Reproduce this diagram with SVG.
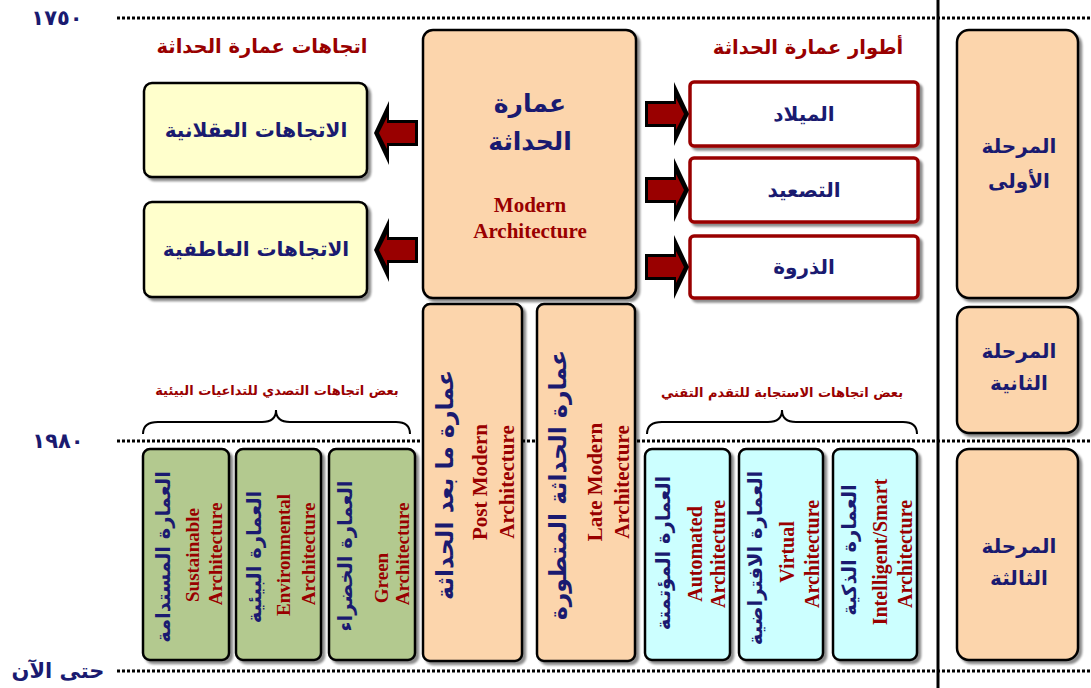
<svg xmlns="http://www.w3.org/2000/svg" width="1091" height="688" viewBox="0 0 1091 688">
<style>
.bg{fill:#ffffff}
.dot{stroke:#000;stroke-width:3;stroke-dasharray:3 2;fill:none}
.box{stroke:#000;stroke-width:2.5}
.peach{fill:#FCD5AC}
.yel{fill:#FFFFCC}
.grn{fill:#B3C98F}
.cyn{fill:#CCFFFF}
.stage{fill:#fff;stroke:#990000;stroke-width:3.5}
.ar{font-family:"DejaVu Sans","Liberation Sans",sans-serif;font-weight:bold;fill:#1a1a70;text-anchor:middle}
.arr{font-family:"DejaVu Sans","Liberation Sans",sans-serif;font-weight:bold;fill:#990000;text-anchor:middle}
.en{font-family:"Liberation Serif",serif;font-weight:bold;fill:#990000;text-anchor:middle}
.v{dominant-baseline:central}
.brace{stroke:#000;stroke-width:2;fill:none}
</style>
<defs>
<filter id="sh" x="-10%" y="-10%" width="130%" height="130%">
<feDropShadow dx="3" dy="3" stdDeviation="1.2" flood-color="#000" flood-opacity="0.45"/>
</filter>
<g id="arrow">
<polygon points="-43,-13 -14,-13 -14,-32 1,0 -14,32 -14,13 -43,13" fill="#000"/>
<polygon points="-40,-10 -12,-10 -12,-16 -4,0 -12,16 -12,10 -40,10" fill="#990000"/>
</g>
</defs>
<rect class="bg" x="0" y="0" width="1091" height="688"/>

<g id="timeline">
<line class="dot" x1="117" y1="18" x2="1091" y2="18"/>
<line class="dot" x1="117" y1="441" x2="1091" y2="441"/>
<line class="dot" x1="117" y1="671" x2="1091" y2="671"/>
<line x1="938" y1="0" x2="938" y2="688" stroke="#000" stroke-width="3"/>
<text class="ar" x="57" y="25" font-size="21" letter-spacing="3">١٧٥٠</text>
<text class="ar" x="58" y="448" font-size="21" letter-spacing="3">١٩٨٠</text>
<text class="ar" x="58" y="678" font-size="21">حتى الآن</text>
</g>

<g id="titles">
<text class="arr" x="262" y="53" font-size="19.5">اتجاهات عمارة الحداثة</text>
<text class="arr" x="808" y="54" font-size="19.5">أطوار عمارة الحداثة</text>
</g>

<g id="modern">
<rect class="box peach" filter="url(#sh)" x="423" y="30" width="213" height="268" rx="10"/>
<text class="ar" x="530" y="112" font-size="25">عمارة</text>
<text class="ar" x="530" y="150" font-size="25">الحداثة</text>
<text class="en" x="530" y="212" font-size="21">Modern</text>
<text class="en" x="530" y="238" font-size="21">Architecture</text>
</g>

<g id="rational">
<rect class="box yel" filter="url(#sh)" x="144" y="83" width="223" height="94" rx="8"/>
<text class="ar" x="256" y="137" font-size="20">الاتجاهات العقلانية</text>
</g>
<g id="emotional">
<rect class="box yel" filter="url(#sh)" x="144" y="202" width="223" height="95" rx="8"/>
<text class="ar" x="256" y="256" font-size="20">الاتجاهات العاطفية</text>
</g>

<g id="birth">
<rect class="stage" filter="url(#sh)" x="690" y="82" width="228" height="64" rx="4"/>
<text class="ar" x="804" y="121" font-size="20">الميلاد</text>
</g>
<g id="rise">
<rect class="stage" filter="url(#sh)" x="690" y="158" width="228" height="64" rx="4"/>
<text class="ar" x="804" y="197" font-size="20">التصعيد</text>
</g>
<g id="peak">
<rect class="stage" filter="url(#sh)" x="690" y="236" width="228" height="62" rx="4"/>
<text class="ar" x="804" y="274" font-size="20">الذروة</text>
</g>

<g id="phase1">
<rect class="box peach" filter="url(#sh)" x="957" y="30" width="121" height="268" rx="12"/>
<text class="ar" x="1019" y="153" font-size="20">المرحلة</text>
<text class="ar" x="1019" y="188" font-size="20">الأولى</text>
</g>
<g id="phase2">
<rect class="box peach" filter="url(#sh)" x="957" y="307" width="121" height="126" rx="12"/>
<text class="ar" x="1019" y="358" font-size="20">المرحلة</text>
<text class="ar" x="1019" y="390" font-size="20">الثانية</text>
</g>
<g id="phase3">
<rect class="box peach" filter="url(#sh)" x="957" y="449" width="121" height="211" rx="12"/>
<text class="ar" x="1019" y="553" font-size="20">المرحلة</text>
<text class="ar" x="1019" y="585" font-size="20">الثالثة</text>
</g>

<g id="postmodern">
<rect class="box peach" filter="url(#sh)" x="423" y="304" width="99" height="357" rx="7"/>
<text class="ar v" transform="translate(445,485) rotate(-90)" font-size="23.5">عمارة ما بعد الحداثة</text>
<text class="en v" transform="translate(480,482) rotate(-90)" font-size="21">Post Modern</text>
<text class="en v" transform="translate(507,482) rotate(-90)" font-size="21">Architecture</text>
</g>
<g id="latemodern">
<rect class="box peach" filter="url(#sh)" x="537" y="304" width="98" height="357" rx="7"/>
<text class="ar v" transform="translate(558,485) rotate(-90)" font-size="23.5">عمارة الحداثة المتطورة</text>
<text class="en v" transform="translate(595,482) rotate(-90)" font-size="21">Late Modern</text>
<text class="en v" transform="translate(622,482) rotate(-90)" font-size="21">Architecture</text>
</g>

<g id="sustainable">
<rect class="box grn" filter="url(#sh)" x="143" y="449" width="86" height="211" rx="7"/>
<text class="ar v" transform="translate(163,557) rotate(-90)" font-size="19.5">العمارة المستدامة</text>
<text class="en v" transform="translate(192,555) rotate(-90)" font-size="19">Sustainable</text>
<text class="en v" transform="translate(215,554) rotate(-90)" font-size="19">Architecture</text>
</g>
<g id="environmental">
<rect class="box grn" filter="url(#sh)" x="236" y="449" width="85" height="211" rx="7"/>
<text class="ar v" transform="translate(254,557) rotate(-90)" font-size="19.5">العمارة البيئية</text>
<text class="en v" transform="translate(283,555) rotate(-90)" font-size="19">Environmental</text>
<text class="en v" transform="translate(308,554) rotate(-90)" font-size="19">Architecture</text>
</g>
<g id="green">
<rect class="box grn" filter="url(#sh)" x="329" y="449" width="86" height="211" rx="7"/>
<text class="ar v" transform="translate(345,556) rotate(-90)" font-size="19.5">العمارة الخضراء</text>
<text class="en v" transform="translate(381,578) rotate(-90)" font-size="19">Green</text>
<text class="en v" transform="translate(402,554) rotate(-90)" font-size="19">Architecture</text>
</g>

<g id="automated">
<rect class="box cyn" filter="url(#sh)" x="645" y="449" width="85" height="211" rx="7"/>
<text class="ar v" transform="translate(663,553) rotate(-90)" font-size="19.5">العمارة المؤتمتة</text>
<text class="en v" transform="translate(695,554) rotate(-90)" font-size="20">Automated</text>
<text class="en v" transform="translate(718,554) rotate(-90)" font-size="20">Architecture</text>
</g>
<g id="virtual">
<rect class="box cyn" filter="url(#sh)" x="739" y="449" width="84" height="211" rx="7"/>
<text class="ar v" transform="translate(755,558) rotate(-90)" font-size="19.5">العمارة الافتراضية</text>
<text class="en v" transform="translate(787,552) rotate(-90)" font-size="20">Virtual</text>
<text class="en v" transform="translate(812,554) rotate(-90)" font-size="20">Architecture</text>
</g>
<g id="smart">
<rect class="box cyn" filter="url(#sh)" x="833" y="449" width="84" height="211" rx="7"/>
<text class="ar v" transform="translate(849,550) rotate(-90)" font-size="19.5">العمارة الذكية</text>
<text class="en v" transform="translate(880,552) rotate(-90)" font-size="20">Intelligent/Smart</text>
<text class="en v" transform="translate(905,554) rotate(-90)" font-size="20">Architecture</text>
</g>

<g id="braces">
<path class="brace" d="M143,434 Q143,422 158,422 L262,422 Q276,422 276,410 Q276,422 290,422 L396,422 Q410,422 410,434"/>
<text class="arr" x="277" y="395" font-size="13">بعض اتجاهات التصدي للتداعيات البيئية</text>
<path class="brace" d="M647,434 Q647,422 662,422 L768,422 Q782,422 782,410 Q782,422 796,422 L903,422 Q917,422 917,434"/>
<text class="arr" x="782" y="397" font-size="13">بعض اتجاهات الاستجابة للتقدم التقني</text>
</g>

<g id="connectors">
<use href="#arrow" transform="translate(375,133) scale(-1,1)"/>
<use href="#arrow" transform="translate(375,250) scale(-1,1)"/>
<use href="#arrow" transform="translate(688,114)"/>
<use href="#arrow" transform="translate(688,190)"/>
<use href="#arrow" transform="translate(688,267)"/>
</g>
</svg>
